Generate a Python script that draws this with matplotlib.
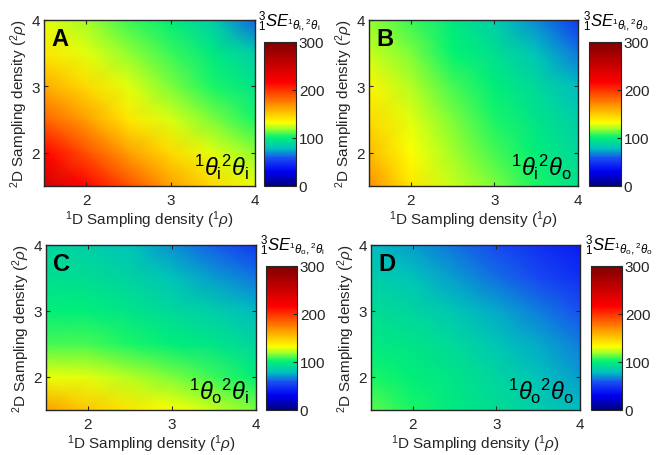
import numpy as np
import matplotlib
matplotlib.use('Agg')
import matplotlib.pyplot as plt
from matplotlib.colors import LinearSegmentedColormap

plt.rcParams['font.family'] = ['Liberation Sans', 'DejaVu Sans']
plt.rcParams['mathtext.fontset'] = 'custom'
plt.rcParams['mathtext.rm'] = 'Liberation Sans'
plt.rcParams['mathtext.it'] = 'Liberation Sans:italic'
plt.rcParams['mathtext.bf'] = 'Liberation Sans:bold'

# sampling grid (1rho along x, 2rho along y)
rho1 = [1.5, 2.0, 2.5, 3.0, 3.5, 4.0]
rho2 = [1.5, 2.0, 2.5, 3.0, 3.5, 4.0]

# SE values, rows = rho2 (bottom->top), cols = rho1 (left->right)
se_ii = [[245, 215, 190, 165, 145, 130],
         [215, 190, 165, 145, 128, 118],
         [185, 165, 140, 127, 115, 105],
         [160, 145, 128, 115, 105, 95],
         [140, 128, 118, 108, 98, 85],
         [128, 120, 108, 100, 85, 62]]
se_io = [[170, 140, 125, 115, 105, 95],
         [155, 132, 120, 110, 100, 90],
         [145, 128, 115, 105, 95, 85],
         [135, 122, 110, 100, 90, 78],
         [125, 115, 103, 93, 80, 65],
         [118, 108, 98, 85, 68, 50]]
se_oi = [[165, 150, 140, 132, 125, 115],
         [130, 128, 122, 115, 108, 100],
         [110, 110, 105, 100, 95, 88],
         [100, 100, 95, 90, 85, 78],
         [93, 92, 87, 80, 72, 65],
         [88, 85, 80, 70, 60, 50]]
se_oo = [[112, 105, 98, 92, 85, 78],
         [105, 100, 95, 88, 80, 72],
         [98, 95, 90, 82, 74, 66],
         [92, 88, 82, 74, 66, 58],
         [85, 80, 72, 64, 56, 48],
         [78, 72, 64, 56, 47, 40]]

letters = ['A', 'B', 'C', 'D']
pairs = [('i', 'i'), ('i', 'o'), ('o', 'i'), ('o', 'o')]
panels = [se_ii, se_io, se_oi, se_oo]

# jet-like map, stretched so yellow sits around 130
stops = [(0.0, (0.0, 0.0, 0.5)), (0.10, (0.0, 0.0, 0.95)), (0.19, (0.1, 0.3, 0.95)),
         (0.26, (0.0, 0.75, 0.75)), (0.34, (0.0, 0.95, 0.45)), (0.39, (0.55, 1.0, 0.2)),
         (0.44, (1.0, 1.0, 0.0)), (0.57, (1.0, 0.55, 0.0)), (0.72, (1.0, 0.0, 0.0)),
         (1.0, (0.5, 0.0, 0.0))]
cmap = LinearSegmentedColormap.from_list('sejet', stops)

W, H = 657, 456
fig = plt.figure(figsize=(W / 100, H / 100), dpi=100)

# pixel boxes: (left, top, width, height)
ax_boxes = [(44, 21, 211, 166), (369, 21, 209, 166), (46, 246, 210, 165), (371, 246, 209, 165)]
cb_boxes = [(264, 43, 32, 144), (589, 43, 32, 144), (266, 267, 31, 144), (591, 267, 31, 144)]

def frac(b):
    l, t, w, h = b
    return [l / W, 1 - (t + h) / H, w / W, h / H]

for k in range(4):
    ax = fig.add_axes(frac(ax_boxes[k]))
    mesh = ax.pcolormesh(rho1, rho2, np.array(panels[k]), shading='gouraud',
                         cmap=cmap, vmin=0, vmax=300)
    ax.set_xlim(1.5, 4)
    ax.set_ylim(1.5, 4)
    ax.set_xticks([2, 3, 4])
    ax.set_yticks([2, 3, 4])
    ax.tick_params(direction='in', top=True, right=True, labelsize=11, length=3,
                   color='#262626', labelcolor='#262626')
    ax.tick_params(axis='x', pad=5)
    ax.tick_params(axis='y', pad=3)
    for s in ax.spines.values():
        s.set_color('#262626')
        s.set_linewidth(1.0)
    ax.set_xlabel(r'$^{1}$D Sampling density ($^{1}\rho$)', fontsize=11, labelpad=1, color='#262626')
    ax.set_ylabel(r'$^{2}$D Sampling density ($^{2}\rho$)', fontsize=11, labelpad=1, color='#262626')
    ax.text(0.035, 0.955, letters[k], transform=ax.transAxes, fontsize=17,
            fontweight='bold', va='top', ha='left')
    a, b = pairs[k]
    ax.text(0.97, 0.03, r'$^{1}\theta_{\mathrm{%s}}{}^{2}\theta_{\mathrm{%s}}$' % (a, b),
            transform=ax.transAxes, fontsize=17, va='bottom', ha='right')

    cax = fig.add_axes(frac(cb_boxes[k]))
    cb = fig.colorbar(mesh, cax=cax, ticks=[0, 100, 200, 300])
    cb.outline.set_edgecolor('#262626')
    cax.tick_params(direction='in', labelsize=11, length=3, color='#262626',
                    labelcolor='#262626', pad=2)
    cax.set_title(r'${}^{3}_{1}\mathit{SE}_{{}^{1}\theta_{\mathrm{%s}},{}^{2}\theta_{\mathrm{%s}}}$' % (a, b),
                  fontsize=12, pad=12, loc='left', x=-0.2)

fig.savefig('out.png', dpi=100)
